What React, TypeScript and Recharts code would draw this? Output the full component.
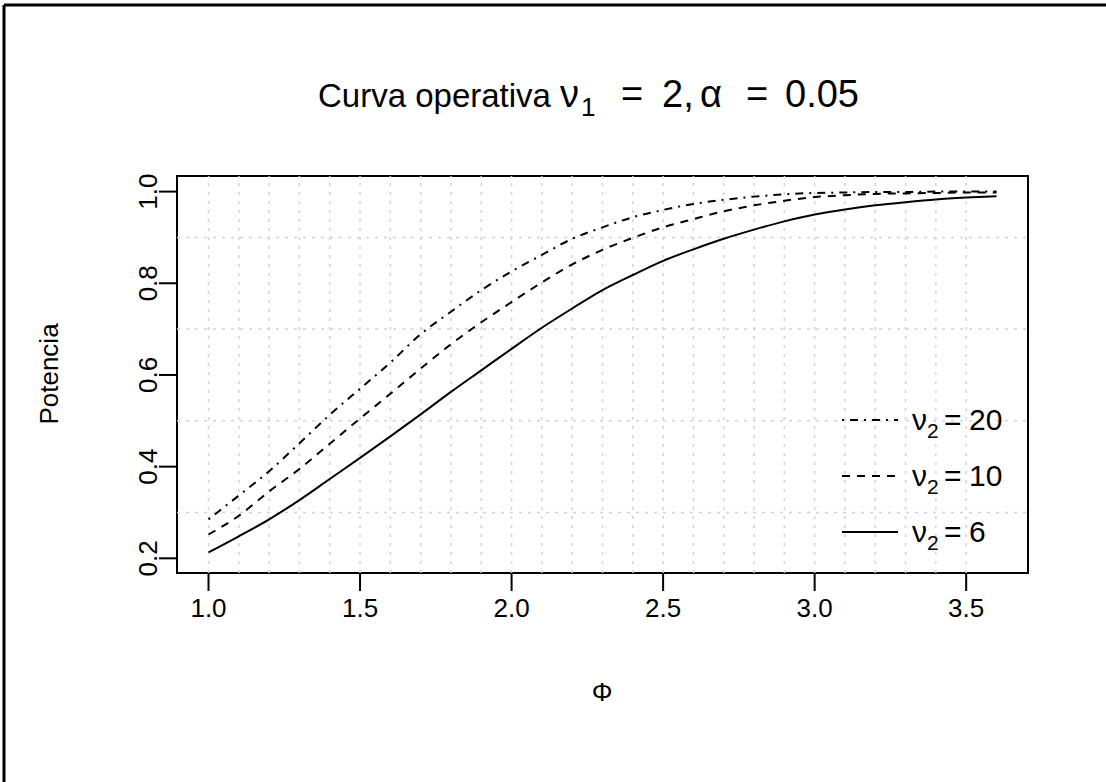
import { LineChart, Line, XAxis, YAxis, ReferenceLine, ReferenceArea, Legend } from 'recharts';

// Φ values and power curves
const phi = [1.0, 1.1, 1.2, 1.3, 1.4, 1.5, 1.6, 1.7, 1.8, 1.9, 2.0, 2.1, 2.2, 2.3, 2.4, 2.5, 2.6, 2.7, 2.8, 2.9, 3.0, 3.1, 3.2, 3.3, 3.4, 3.5, 3.6];
const pot6 = [0.213, 0.248, 0.285, 0.327, 0.373, 0.419, 0.466, 0.514, 0.563, 0.610, 0.657, 0.703, 0.745, 0.785, 0.818, 0.849, 0.874, 0.897, 0.917, 0.935, 0.950, 0.961, 0.970, 0.977, 0.983, 0.987, 0.990];
const pot10 = [0.252, 0.293, 0.346, 0.395, 0.450, 0.505, 0.559, 0.614, 0.667, 0.715, 0.759, 0.802, 0.841, 0.873, 0.899, 0.922, 0.940, 0.957, 0.970, 0.980, 0.988, 0.992, 0.995, 0.996, 0.997, 0.998, 0.998];
const pot20 = [0.285, 0.337, 0.390, 0.451, 0.513, 0.570, 0.627, 0.689, 0.738, 0.785, 0.826, 0.862, 0.897, 0.922, 0.944, 0.960, 0.973, 0.982, 0.989, 0.994, 0.997, 0.998, 0.999, 0.999, 1.000, 1.000, 1.000];

const xTicks = [1.0, 1.5, 2.0, 2.5, 3.0, 3.5];
const yTicks = [0.2, 0.4, 0.6, 0.8, 1.0];
const gridX = [1.0, 1.1, 1.2, 1.3, 1.4, 1.5, 1.6, 1.7, 1.8, 1.9, 2.0, 2.1, 2.2, 2.3, 2.4, 2.5, 2.6, 2.7, 2.8, 2.9, 3.0, 3.1, 3.2, 3.3, 3.4, 3.5];
const gridY = [0.3, 0.5, 0.7, 0.9];

const xDomain = [0.896, 3.704];
const yDomain = [0.168, 1.034];

const data = phi.map((p, i) => ({ phi: p, v6: pot6[i], v10: pot10[i], v20: pot20[i] }));

const series = [
  { key: 'v20', nu: '20', dash: '2 6 8 6' },
  { key: 'v10', nu: '10', dash: '8 7' },
  { key: 'v6', nu: '6', dash: undefined as string | undefined },
];

const FONT = '"Liberation Sans", Arial, sans-serif';

const YTick = (props: any) => {
  const { x, y, payload } = props;
  return (
    <text
      transform={`translate(${x},${y}) rotate(-90)`}
      textAnchor="middle"
      fontSize={26}
      fontFamily={FONT}
      fill="#000"
    >
      {payload.value.toFixed(1)}
    </text>
  );
};

// legend drawn like R's plotmath: nu[2] == value
const LegendBox = () => (
  <svg width={220} height={170}>
    {series.map((s, i) => (
      <g key={s.key} transform={`translate(0, ${25 + i * 56})`}>
        <line x1={7} x2={63} y1={0} y2={0} stroke="#000" strokeWidth={2} strokeDasharray={s.dash} />
        <text y={10} fontSize={30} fontFamily={FONT} fill="#000">
          <tspan x={77}>ν</tspan>
          <tspan x={92} dy={8} fontSize={21}>2</tspan>
          <tspan x={109} dy={-8}>=</tspan>
          <tspan x={134}>{s.nu}</tspan>
        </text>
      </g>
    ))}
  </svg>
);

export default function App() {
  return (
    <div style={{ position: 'absolute', left: 0, top: 0, width: 1106, height: 782, background: '#fff' }}>
      <LineChart
        width={1106}
        height={782}
        data={data}
        margin={{ top: 176, right: 78, bottom: 0, left: 0 }}
      >
        <XAxis
          type="number"
          dataKey="phi"
          domain={xDomain}
          allowDataOverflow
          ticks={xTicks}
          tickFormatter={(v: number) => v.toFixed(1)}
          axisLine={false}
          tickLine={{ stroke: '#000', strokeWidth: 2 }}
          tickSize={18}
          tickMargin={8}
          height={209}
          tick={{ fontSize: 26, fill: '#000', fontFamily: FONT }}
        />
        <YAxis
          type="number"
          domain={yDomain}
          allowDataOverflow
          ticks={yTicks}
          axisLine={false}
          tickLine={{ stroke: '#000', strokeWidth: 2 }}
          tickSize={18}
          width={177}
          tick={<YTick />}
        />
        {gridX.map((g) => (
          <ReferenceLine key={'gx' + g} x={g} stroke="#d3d3d3" strokeWidth={1.5} strokeDasharray="3 6" />
        ))}
        {gridY.map((g) => (
          <ReferenceLine key={'gy' + g} y={g} stroke="#d3d3d3" strokeWidth={1.5} strokeDasharray="3 6" />
        ))}
        {series.map((s) => (
          <Line
            key={s.key}
            type="monotone"
            dataKey={s.key}
            stroke="#000"
            strokeWidth={2}
            strokeDasharray={s.dash}
            dot={false}
            activeDot={false}
            isAnimationActive={false}
          />
        ))}
        <ReferenceArea
          x1={xDomain[0]}
          x2={xDomain[1]}
          y1={yDomain[0]}
          y2={yDomain[1]}
          fill="none"
          fillOpacity={0}
          stroke="#000"
          strokeWidth={2}
          ifOverflow="visible"
        />
        <Legend
          layout="vertical"
          align="center"
          verticalAlign="middle"
          content={<LegendBox />}
          wrapperStyle={{ left: 835, top: 395, width: 220, height: 170 }}
        />
      </LineChart>
      <svg
        width={1106}
        height={782}
        style={{ position: 'absolute', left: 0, top: 0, pointerEvents: 'none' }}
      >
        <line x1={4} y1={5} x2={1106} y2={5} stroke="#000" strokeWidth={3} />
        <line x1={4} y1={5} x2={4} y2={782} stroke="#000" strokeWidth={3} />
        <text y={107} fontSize={33} fontFamily={FONT} fill="#000">
          <tspan x={318}>Curva operativa</tspan>
          <tspan x={560} fontSize={38}>ν</tspan>
          <tspan x={581} dy={9} fontSize={26}>1</tspan>
          <tspan x={621} dy={-9} fontSize={38}>=</tspan>
          <tspan x={662} fontSize={38}>2,</tspan>
          <tspan x={700} fontSize={38}>α</tspan>
          <tspan x={746} fontSize={38}>=</tspan>
          <tspan x={785} fontSize={38}>0.05</tspan>
        </text>
        <text
          transform="translate(58,374) rotate(-90)"
          textAnchor="middle"
          fontSize={26}
          fontFamily={FONT}
          fill="#000"
        >
          Potencia
        </text>
        <text x={602} y={701} textAnchor="middle" fontSize={26} fontFamily={FONT} fill="#000">
          Φ
        </text>
      </svg>
    </div>
  );
}
